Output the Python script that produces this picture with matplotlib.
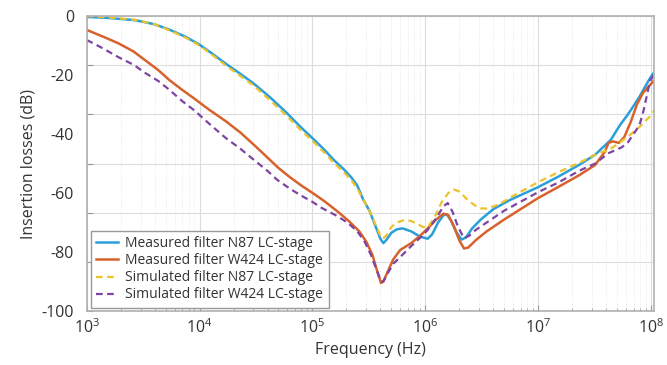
import numpy as np
import matplotlib
matplotlib.use("Agg")
import matplotlib.pyplot as plt

plt.rcParams['font.family'] = ['Open Sans', 'DejaVu Sans']
plt.rcParams['mathtext.fontset'] = 'custom'
plt.rcParams['mathtext.rm'] = 'Open Sans'
plt.rcParams['axes.unicode_minus'] = False

#%% data (Hz, dB)
f_meas_n87 = [1e3, 1.5e3, 2.7e3, 4e3, 5.4e3, 7.5e3, 1e4, 1.3e4, 1.7e4, 2.3e4, 3e4,
              4.2e4, 5.8e4, 7.8e4, 1e5, 1.25e5, 1.55e5, 1.9e5, 2.2e5, 2.5e5, 2.8e5,
              3.2e5, 3.6e5, 4e5, 4.25e5, 4.5e5, 5e5, 5.6e5, 6.3e5, 7.5e5, 9e5,
              1.05e6, 1.15e6, 1.3e6, 1.45e6, 1.55e6, 1.7e6, 1.9e6, 2.1e6, 2.3e6, 2.6e6,
              3.1e6, 4e6, 5.6e6, 1e7, 1.5e7, 2.3e7, 3.2e7, 4.4e7, 5.3e7, 6.2e7,
              7e7, 8e7, 9e7, 1e8, 1.07e8]
il_meas_n87 = [-0.3, -0.6, -1.4, -2.8, -4.6, -7, -9.7, -12.8, -16.1, -19.6, -22.8,
               -27.5, -32.5, -37.5, -41.4, -45, -48.8, -52, -54.6, -57.5, -62,
               -66, -71, -75.5, -77, -76, -73.5, -72.3, -72, -73, -74.8,
               -75.5, -74, -70, -67.5, -67.2, -69.5, -73.5, -75.8, -75, -72,
               -69, -65.5, -62.4, -58, -54.5, -50.5, -47, -42, -37, -33.5,
               -30.5, -27, -23.5, -20.5, -19]

f_meas_w424 = [1e3, 1.4e3, 1.9e3, 2.6e3, 3.3e3, 4.3e3, 5.4e3, 7e3, 9e3, 1.2e4, 1.7e4,
               2.3e4, 3e4, 4e4, 5e4, 6.3e4, 8e4, 1.05e5, 1.3e5, 1.7e5, 2.1e5,
               2.6e5, 3e5, 3.4e5, 3.75e5, 4.05e5, 4.25e5, 4.6e5, 5.2e5, 6e5, 7.5e5,
               9e5, 1.05e6, 1.25e6, 1.45e6, 1.6e6, 1.8e6, 2e6, 2.2e6, 2.4e6, 2.8e6,
               3.5e6, 5e6, 1e7, 1.5e7, 2.3e7, 3.2e7, 3.9e7, 4.2e7, 4.6e7, 5.2e7,
               5.8e7, 6.6e7, 7.5e7, 8.5e7, 9.8e7, 1.07e8]
il_meas_w424 = [-4.7, -7, -9.2, -12, -15, -18.3, -21.7, -25, -28, -31.6, -35.6,
                -39.5, -43.5, -48, -51.5, -54.6, -57.5, -60.5, -63, -66.5, -69.5,
                -73, -76.5, -81, -86.5, -90.5, -90, -87, -82.5, -79.3, -77,
                -74.5, -72, -69, -67, -67.5, -71.5, -76, -78.8, -78.5, -76,
                -73, -69, -61.7, -58, -54, -50.5, -46, -43, -42.5, -43,
                -41, -36, -30, -26, -23.4, -21.7]

f_sim_n87 = [1e3, 1.5e3, 2.7e3, 4e3, 5.4e3, 7.5e3, 1e4, 1.3e4, 1.7e4, 2.3e4, 3e4,
             4.2e4, 5.8e4, 7.8e4, 1e5, 1.25e5, 1.55e5, 1.9e5, 2.2e5, 2.5e5, 2.8e5,
             3.2e5, 3.6e5, 4e5, 4.2e5, 4.5e5, 5e5, 5.6e5, 6.5e5, 7.5e5, 8.5e5,
             9.5e5, 1.05e6, 1.2e6, 1.4e6, 1.6e6, 1.8e6, 2e6, 2.3e6, 2.7e6, 3.1e6,
             3.6e6, 4.5e6, 6e6, 1e7, 1.5e7, 2.3e7, 3.2e7, 4.4e7, 6.2e7, 7.9e7,
             9.8e7, 1.07e8]
il_sim_n87 = [0, -0.4, -1.3, -2.8, -4.8, -7.3, -10, -13.2, -16.7, -20.3, -23.5,
              -28.5, -33.5, -38.5, -42.3, -46, -49.8, -53, -55.5, -58.5, -62,
              -66, -70.5, -74.5, -75.5, -74.5, -71.5, -70, -69.2, -69.5, -70.5,
              -71.5, -71.5, -68.5, -63, -60, -58.8, -59.5, -61.8, -64, -65.2,
              -65.3, -63.8, -61, -56.3, -53, -49.8, -47, -45, -41, -37.6,
              -34, -32]

f_sim_w424 = [1e3, 1.4e3, 1.9e3, 2.6e3, 3.3e3, 4.3e3, 5.4e3, 7e3, 9e3, 1.2e4, 1.7e4,
              2.3e4, 3.2e4, 4e4, 4.9e4, 6.3e4, 7.8e4, 1e5, 1.2e5, 1.6e5, 2.04e5,
              2.5e5, 2.9e5, 3.3e5, 3.7e5, 4.05e5, 4.25e5, 4.6e5, 5.2e5, 6e5, 7.5e5,
              9.1e5, 1.05e6, 1.25e6, 1.45e6, 1.58e6, 1.75e6, 1.95e6, 2.2e6, 2.45e6, 2.8e6,
              3.5e6, 5e6, 1e7, 1.5e7, 2.3e7, 3.2e7, 4.2e7, 5.5e7, 6.2e7, 7e7,
              7.9e7, 8.6e7, 9.3e7, 9.8e7, 1.07e8]
il_sim_w424 = [-8.1, -11, -13.9, -16.5, -19.3, -22, -25, -28.8, -32, -36.3, -41.3,
               -45, -49.5, -52.5, -55.6, -58.5, -60.7, -63, -65, -67.5, -70,
               -73, -76.5, -81, -86, -90, -90, -87.5, -84, -81.7, -78,
               -75, -72.5, -68.5, -64.5, -63.4, -66.5, -71.5, -75.3, -74.5, -72.5,
               -70, -66, -59.7, -56.5, -52.5, -50, -46.5, -44.5, -43, -40,
               -37, -32, -26, -22, -19.7]

etiquetas = ['Measured filter N87 LC-stage', 'Measured filter W424 LC-stage',
             'Simulated filter N87 LC-stage', 'Simulated filter W424 LC-stage']
y_labels = [0, -20, -40, -60, -80, -100]

#%% plot
fig = plt.figure(figsize=(6.67, 3.65), dpi=100)
ax = fig.add_axes([0.130, 0.148, 0.851, 0.808])

ax.plot(f_meas_n87, il_meas_n87, color='#2b9fd8', lw=1.8, label=etiquetas[0])
ax.plot(f_meas_w424, il_meas_w424, color='#d7622b', lw=1.8, label=etiquetas[1])
ax.plot(f_sim_n87, il_sim_n87, color='#eec22a', lw=1.6, ls=(0, (3, 2)), label=etiquetas[2])
ax.plot(f_sim_w424, il_sim_w424, color='#7d45a3', lw=1.6, ls=(0, (3, 2)), label=etiquetas[3])

ax.set_xscale('log')
ax.set_xlim(1e3, 1.07e8)
ax.set_ylim(-100, 0)
# in the original the grid/tick marks are split in 6 steps, the labels in 5
ax.yaxis.remove_overlapping_locs = False
ax.set_yticks(np.linspace(-100, 0, 7))
ax.set_yticklabels([])
ax.set_yticks(y_labels, minor=True)
ax.set_yticklabels([str(v) for v in y_labels], minor=True)

ax.grid(which='major', color='#dcdcdc', lw=0.8)
ax.grid(which='minor', axis='x', color='#e4e4e4', lw=0.6, ls=':')
ax.set_axisbelow(True)
ax.tick_params(which='both', direction='in', color='#999999', labelsize=11.5,
               labelcolor='#333333', top=False, right=False)
ax.tick_params(which='major', length=4, pad=5)
ax.tick_params(which='minor', length=2, pad=5)
ax.tick_params(axis='y', which='minor', length=0, pad=9)
for s in ax.spines.values():
    s.set_color('#b0b0b0')
    s.set_linewidth(1.2)

ax.set_xlabel('Frequency (Hz)', fontsize=11.5, color='#333333')
ax.set_ylabel('Insertion losses (dB)', fontsize=11.5, color='#333333')

leg = ax.legend(loc='lower left', bbox_to_anchor=(0.007, 0.01), borderaxespad=0,
                fontsize=10, fancybox=False, framealpha=1, handlelength=1.6,
                labelspacing=0.15, borderpad=0.4, handletextpad=0.5)
leg.get_frame().set_edgecolor('#999999')
for t in leg.get_texts():
    t.set_color('#333333')

fig.savefig('out.png', dpi=100)
